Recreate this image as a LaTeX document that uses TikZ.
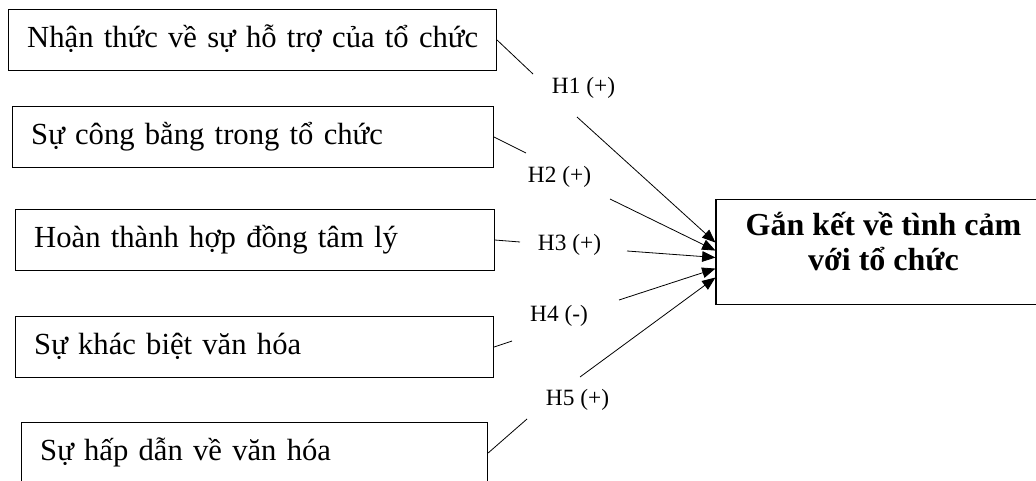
\documentclass[tikz,border=0pt]{standalone}
\usepackage{fontspec}
\setmainfont{Liberation Serif}
\usetikzlibrary{arrows.meta}
\begin{document}
\begin{tikzpicture}[
		x=0.75pt, y=-0.75pt,
		factor/.style={draw, line width=0.8pt, anchor=north west, align=left,
			inner xsep=14pt, inner ysep=0pt, text height=28.5pt, text depth=17.25pt,
			font=\fontsize{23pt}{28pt}\selectfont},
		result/.style={draw, line width=0.8pt, anchor=north, align=center, inner sep=0pt,
			minimum width=251.25pt, text height=53.25pt, text depth=25.5pt,
			font=\fontsize{24pt}{26.25pt}\selectfont\bfseries},
		hyp/.style={inner sep=0pt, font=\fontsize{17.5pt}{19pt}\selectfont},
		link/.style={line width=0.6pt},
		arrow/.style={line width=0.6pt, -{Triangle[length=10pt,width=8pt]}}
		]
		
		\useasboundingbox (0,0) rectangle (1036,481);
		\clip (0,0) rectangle (1036,481);
		
		\node[factor, text width=338pt] (f1) at (8,9) {\mbox{Nhận thức về sự hỗ trợ của tổ chức}};
		\node[factor, text width=332.75pt] (f2) at (12,106) {Sự công bằng trong tổ chức};
		\node[factor, text width=331.25pt] (f3) at (15,209) {Hoàn thành hợp đồng tâm lý};
		\node[factor, text width=330.5pt] (f4) at (15,316) {Sự khác biệt văn hóa};
		\node[factor, text width=321.5pt] (f5) at (21,422) {Sự hấp dẫn về văn hóa};
		
		\node[result] (target) at (883.5,199) {Gắn kết về tình cảm\\với tổ chức};
		
		\node[hyp] (h1) at (583.5,88) {H1 (+)};
		\node[hyp] (h2) at (559.5,177) {H2 (+)};
		\node[hyp] (h3) at (569.5,245) {H3 (+)};
		\node[hyp] (h4) at (559,316) {H4 (-)};
		\node[hyp] (h5) at (577.5,400) {H5 (+)};
		
		\coordinate (h1a) at (533,74);
		\coordinate (h2a) at (526,153);
		\coordinate (h3a) at (520,242);
		\coordinate (h4a) at (512,341);
		\coordinate (h5a) at (527,419);
		\coordinate (h1b) at (577,117);
		\coordinate (h2b) at (610,199);
		\coordinate (h3b) at (627,251);
		\coordinate (h4b) at (619,300);
		\coordinate (h5b) at (580,377);
		
		\draw[link] (f1.east) -- (h1a);
		\draw[link] (f2.east) -- (h2a);
		\draw[link] (f3.east) -- (h3a);
		\draw[link] (f4.east) -- (h4a);
		\draw[link] (f5.east) -- (h5a);
		
		\draw[arrow] (h1b) -- ([yshift=7.1pt]target.west);
		\draw[arrow] (h2b) -- ([yshift=1.1pt]target.west);
		\draw[arrow] (h3b) -- ([yshift=-4.1pt]target.west);
		\draw[arrow] (h4b) -- ([yshift=-12.4pt]target.west);
		\draw[arrow] (h5b) -- ([yshift=-19.1pt]target.west);
		
	\end{tikzpicture}
\end{document}
